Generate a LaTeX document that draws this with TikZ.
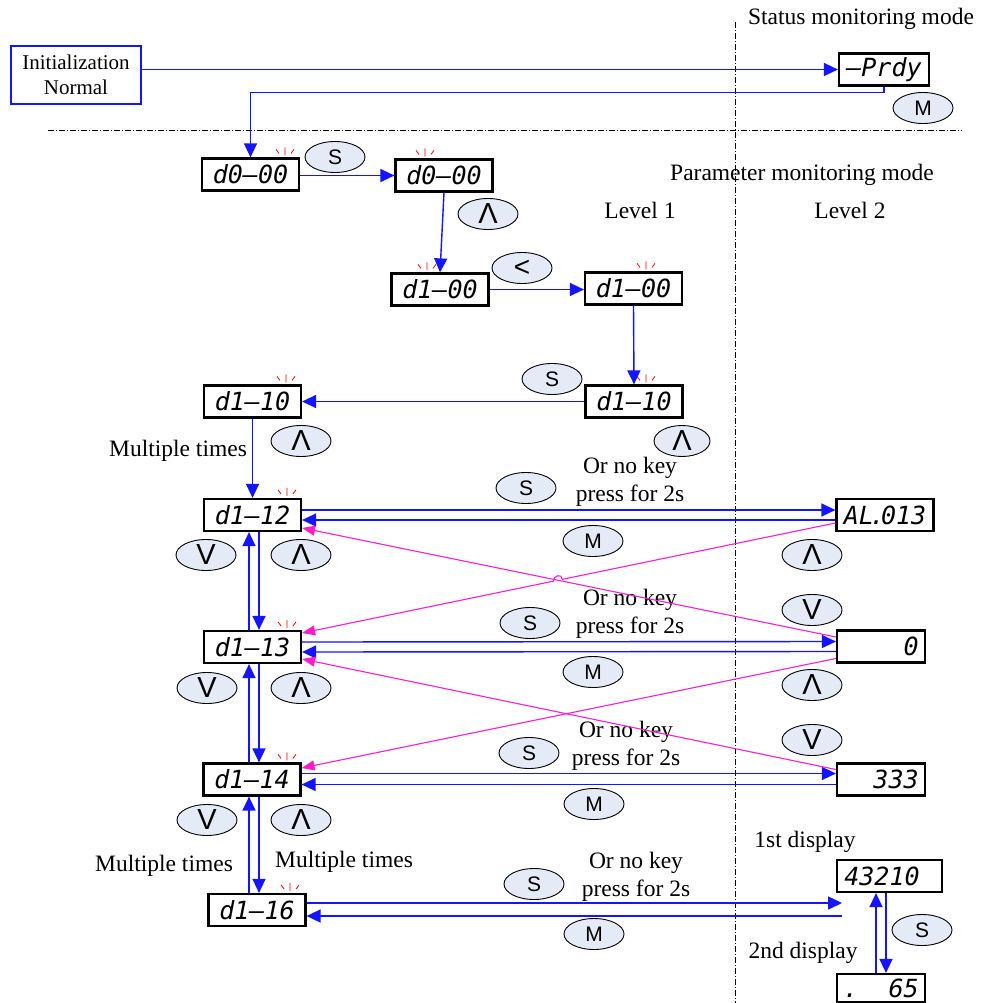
\documentclass[tikz,border=0pt]{standalone}
\usepackage{fontspec}
\setmainfont{Liberation Serif}
\setsansfont{Liberation Sans}
\newfontfamily\segfont{DejaVu Sans Mono}
\usetikzlibrary{arrows.meta,calc,shapes.geometric}
\definecolor{lblue}{RGB}{20,20,255}
\definecolor{pinkc}{RGB}{255,30,200}
\definecolor{btnfill}{RGB}{228,234,246}
\newcommand{\btnup}{{\sffamily\fontsize{29}{29}\selectfont Λ}}
\newcommand{\btndown}{{\sffamily\fontsize{29}{29}\selectfont V}}
\newcommand{\btnleft}{{\sffamily\fontsize{28}{28}\selectfont <}}
\begin{document}
\begin{tikzpicture}[x=1pt,y=-1pt,
  disp/.style={draw=black,line width=2.2pt,minimum width=97pt,minimum height=32pt,inner sep=0pt,
    font=\segfont\itshape\fontsize{25}{25}\selectfont},
  btn/.style={draw=black,line width=0.9pt,fill=btnfill,ellipse,minimum width=60pt,minimum height=31pt,
    inner sep=0pt,font=\sffamily\fontsize{21}{21}\selectfont},
  lbl/.style={inner sep=0pt,align=center,font=\fontsize{23.5}{28}\selectfont},
  initbox/.style={draw=lblue,line width=2.2pt,minimum width=130pt,minimum height=58pt,inner sep=0pt,
    align=center,font=\fontsize{21}{25}\selectfont},
  conn/.style={draw=lblue,line width=1.4pt,-{Triangle[length=14pt,width=13pt]}},
  mconn/.style={draw=pinkc,line width=1.1pt,-{Triangle[length=13pt,width=10pt]}},
  sepline/.style={draw=black,line width=0.8pt,dash pattern=on 6pt off 2pt on 1pt off 2pt},
  blink/.pic={\draw[red,line width=0.8pt] (0,-10)--(0,-2) (-9,-8)--(-6,-4) (9,-8)--(6,-4);}
]
\fill[white] (0,0) rectangle (981,1003);
\useasboundingbox (0,0) rectangle (981,1003);

% separators
\coordinate (hl) at (48,130); \coordinate (hr) at (962,130);
\coordinate (vt) at (735,22); \coordinate (vb) at (735,1003);
\draw[sepline] (hl) -- (hr);
\draw[sepline] (vt) -- (vb);

% labels
\node[lbl] (tstatus) at (861,19) {Status monitoring mode};
\node[lbl] (tparam) at (802,175) {Parameter monitoring mode};
\node[lbl] (tl1) at (640,210) {Level 1};
\node[lbl] (tl2) at (850,210) {Level 2};
\node[lbl] (tmt1) at (178,451) {Multiple times};
\node[lbl] (tor1) at (630,482) {Or no key\\press for 2s};
\node[lbl] (tor2) at (630,614) {Or no key\\press for 2s};
\node[lbl] (tor3) at (626,746) {Or no key\\press for 2s};
\node[lbl] (tor4) at (636,877) {Or no key\\press for 2s};
\node[lbl] (tmt2) at (164,866) {Multiple times};
\node[lbl] (tmt3) at (344,862) {Multiple times};
\node[lbl] (t1st) at (805,842) {1st display};
\node[lbl] (t2nd) at (803,953) {2nd display};

% boxes
\node[initbox] (init) at (76,75) {Initialization\\Normal};
\node[disp,minimum width=90pt] (prdy) at (884,69.5) {–Prdy};
\node[disp] (d00a) at (250.5,174.5) {d0–00};
\node[disp] (d00b) at (444,175.5) {d0–00};
\node[disp] (d100a) at (440,289.5) {d1–00};
\node[disp] (d100b) at (633.5,288.5) {d1–00};
\node[disp] (d110b) at (634,401.5) {d1–10};
\node[disp] (d110a) at (252.5,401.5) {d1–10};
\node[disp] (d112) at (252.5,515) {d1–12};
\node[disp] (d113) at (252.5,647) {d1–13};
\node[disp] (d114) at (252,779.5) {d1–14};
\node[disp] (d116) at (257,910) {d1–16};
\node[disp] (al) at (885,515) {AL\kern-4pt.\kern-4pt013};
\node[disp,minimum width=88pt] (zero) at (881,646.5) {\phantom{0000}0};
\node[disp,minimum width=88pt] (b333) at (881,779.5) {\phantom{00}333};
\node[disp,minimum width=105pt] (b43210) at (889.5,876) {43210\phantom{0}};
\node[disp,minimum width=88pt,minimum height=28pt] (b65) at (881,988) {.\phantom{00}65};

% blink marks
\pic at ($(d00a.north)+(34.5,0)$) {blink};
\pic at ($(d00b.north)+(-19,0)$) {blink};
\pic at ($(d100a.north)+(-13,0)$) {blink};
\pic at ($(d100b.north)+(12.5,0)$) {blink};
\pic at ($(d110b.north)+(12,0)$) {blink};
\pic at ($(d110a.north)+(33.5,0)$) {blink};
\pic at ($(d112.north)+(34.5,0)$) {blink};
\pic at ($(d113.north)+(34.5,0)$) {blink};
\pic at ($(d114.north)+(35,0)$) {blink};
\pic at ($(d116.north)+(33,0)$) {blink};

% buttons
\node[btn] (bM1) at (923,108) {M};
\node[btn] (bS1) at (335,157) {S};
\node[btn] (bU1) at (488,214) {\btnup};
\node[btn] (bL1) at (522,268) {\btnleft};
\node[btn] (bS2) at (552,379) {S};
\node[btn,minimum width=56pt] (bU2) at (682,441) {\btnup};
\node[btn] (bU3) at (301,441) {\btnup};
\node[btn] (bS3) at (526,488) {S};
\node[btn] (bM3) at (593,541) {M};
\node[btn] (bD4) at (206,555) {\btndown};
\node[btn] (bU4) at (301,555) {\btnup};
\node[btn] (bUal) at (812,555) {\btnup};
\node[btn] (bDz) at (812,610) {\btndown};
\node[btn] (bUz) at (812,685) {\btnup};
\node[btn] (bS4) at (530,623) {S};
\node[btn] (bM4) at (593,672) {M};
\node[btn] (bD5) at (207,688) {\btndown};
\node[btn] (bU5) at (301,688) {\btnup};
\node[btn] (bS5) at (529,753) {S};
\node[btn] (bM5) at (594,804) {M};
\node[btn] (bD3) at (812,740) {\btndown};
\node[btn] (bD6) at (207,820) {\btndown};
\node[btn] (bU6) at (301,820) {\btnup};
\node[btn] (bS6) at (534,884) {S};
\node[btn] (bM6) at (594,934) {M};
\node[btn] (bS7) at (922,930) {S};

% connectors
\draw[conn] (init.east |- prdy.west) -- (prdy.west);
\draw[conn] (prdy.south) -- ++(0,6) -| (d00a.north);
\draw[conn] (d00a.east |- d00b.west) -- (d00b.west);
\draw[conn] (d00b.south) -- (d100a.north);
\draw[conn] (d100a.east) -- (d100a.east -| d100b.west);
\draw[conn] (d100b.south) -- (d110b.north);
\draw[conn] (d110b.west) -- (d110a.east);
\draw[conn] (d110a.south) -- (d110a.south |- d112.north);

\draw[conn] ($(d112.east)+(0,-5)$) -- ($(al.west)+(0,-5)$);
\draw[conn] ($(al.west)+(0,5)$) -- ($(d112.east)+(0,5)$);
\draw[conn] ($(d113.east)+(0,-5)$) -- ($(zero.west)+(0,-5)$);
\draw[conn] ($(zero.west)+(0,5)$) -- ($(d113.east)+(0,5)$);
\draw[conn] ($(d114.east)+(0,-6)$) -- ($(b333.west)+(0,-6)$);
\draw[conn] ($(b333.west)+(0,5)$) -- ($(d114.east)+(0,5)$);
\coordinate (e1) at (842,903); \coordinate (e2) at (842,916);
\draw[conn] (d116.east |- e1) -- (e1);
\draw[conn] (e2) -- (d116.east |- e2);

\coordinate (xu) at (249,0); \coordinate (xd) at (259,0);
\draw[conn] (xu |- d113.north) -- (xu |- d112.south);
\draw[conn] (xd |- d112.south) -- (xd |- d113.north);
\draw[conn] (xu |- d114.north) -- (xu |- d113.south);
\draw[conn] (xd |- d113.south) -- (xd |- d114.north);
\draw[conn] (xu |- d116.north) -- (xu |- d114.south);
\draw[conn] (xd |- d114.south) -- (xd |- d116.north);
\coordinate (xu3) at (876,0); \coordinate (xd3) at (886,0);
\draw[conn] (xu3 |- b65.north) -- (xu3 |- b43210.south);
\draw[conn] (xd3 |- b43210.south) -- (xd3 |- b65.north);

% magenta cross links
\coordinate (m1a) at ($(al.west)+(0,8)$);
\coordinate (m1b) at ($(d113.east)+(0,-14)$);
\coordinate (m2a) at ($(zero.west)+(0,-9.5)$);
\coordinate (m2b) at ($(d112.east)+(0,13)$);
\coordinate (m3a) at ($(zero.west)+(0,12)$);
\coordinate (m3b) at ($(d114.east)+(0,-11.5)$);
\coordinate (m4a) at ($(b333.west)+(0,-10)$);
\coordinate (m4b) at ($(d113.east)+(0,12)$);
\draw[mconn] (m2a) -- (m2b);
\draw[mconn] (m1a) -- ($(m1a)!0.5123!(m1b)$) .. controls +(0,-6) and +(0,-6) .. ($(m1a)!0.5288!(m1b)$) -- (m1b);
\draw[mconn] (m3a) -- (m3b);
\draw[mconn] (m4a) -- (m4b);
\end{tikzpicture}
\end{document}
